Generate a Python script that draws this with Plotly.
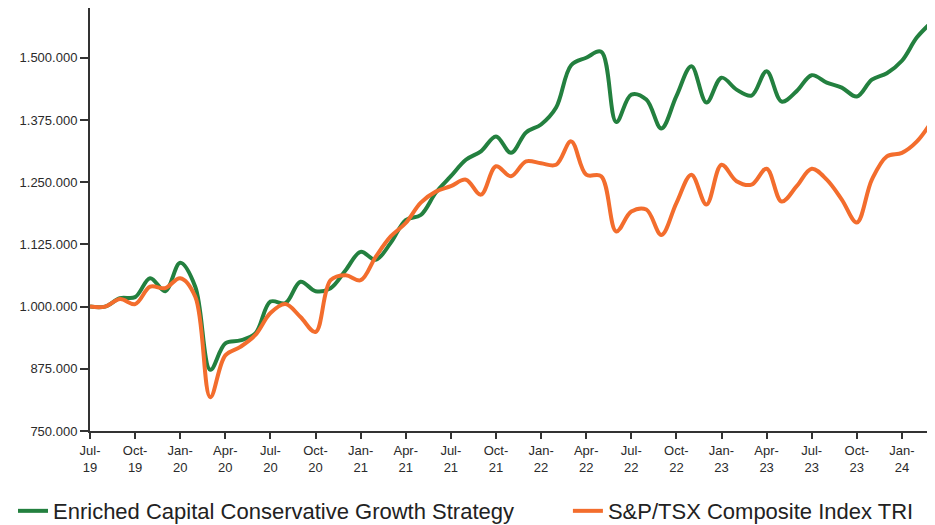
import plotly.graph_objects as go

months = ["Jul-19","Aug-19","Sep-19","Oct-19","Nov-19","Dec-19","Jan-20","Feb-20","Mar-20","Apr-20",
          "May-20","Jun-20","Jul-20","Aug-20","Sep-20","Oct-20","Nov-20","Dec-20","Jan-21","Feb-21",
          "Mar-21","Apr-21","May-21","Jun-21","Jul-21","Aug-21","Sep-21","Oct-21","Nov-21","Dec-21",
          "Jan-22","Feb-22","Mar-22","Apr-22","May-22","Jun-22","Jul-22","Aug-22","Sep-22","Oct-22",
          "Nov-22","Dec-22","Jan-23","Feb-23","Mar-23","Apr-23","May-23","Jun-23","Jul-23","Aug-23",
          "Sep-23","Oct-23","Nov-23","Dec-23","Jan-24","Feb-24","Mar-24"]

enriched = [1000000, 1000000, 1017000, 1019000, 1057000, 1031000, 1088000, 1040000, 873000, 926000,
            932000, 946000, 1010000, 1007000, 1050000, 1031000, 1037000, 1073000, 1110000, 1094000,
            1128000, 1174000, 1184000, 1229000, 1262000, 1295000, 1312000, 1342000, 1309000, 1350000,
            1366000, 1400000, 1485000, 1500000, 1512000, 1371000, 1426000, 1416000, 1358000, 1423000,
            1483000, 1410000, 1460000, 1436000, 1424000, 1473000, 1412000, 1433000, 1465000, 1450000,
            1440000, 1422000, 1456000, 1469000, 1494000, 1541000, 1572000]

tsx = [1000000, 1000000, 1015000, 1005000, 1040000, 1037000, 1057000, 1020000, 818000, 902000,
       919000, 943000, 987000, 1005000, 979000, 949000, 1053000, 1063000, 1053000, 1100000,
       1141000, 1168000, 1209000, 1231000, 1242000, 1255000, 1225000, 1282000, 1262000, 1292000,
       1288000, 1285000, 1332000, 1265000, 1262000, 1151000, 1191000, 1195000, 1144000, 1208000,
       1265000, 1205000, 1285000, 1252000, 1245000, 1277000, 1211000, 1242000, 1277000, 1255000,
       1215000, 1169000, 1255000, 1302000, 1309000, 1332000, 1373000]

y_tickvals = [750000, 875000, 1000000, 1125000, 1250000, 1375000, 1500000]
y_ticktext = ["750.000", "875.000", "1.000.000", "1.125.000", "1.250.000", "1.375.000", "1.500.000"]

x_idx = list(range(len(months)))
x_tickvals = x_idx[::3]
x_ticktext = [m.replace("-", "-<br>") for m in months[::3]]

GREEN = "#23803f"
ORANGE = "#f36d2d"

fig = go.Figure()
fig.add_trace(go.Scatter(x=x_idx, y=enriched, mode="lines",
                         name="Enriched Capital Conservative Growth Strategy",
                         line=dict(color=GREEN, width=4, shape="spline", smoothing=1.0),
                         showlegend=True, legend="legend"))
fig.add_trace(go.Scatter(x=x_idx, y=tsx, mode="lines",
                         name="S&P/TSX Composite Index TRI",
                         line=dict(color=ORANGE, width=4, shape="spline", smoothing=1.0),
                         showlegend=True, legend="legend2"))

axis_col = "#333333"
fig.update_layout(
    width=927, height=517,
    showlegend=True,
    margin=dict(l=82, r=3, t=0, b=94, pad=0),
    plot_bgcolor="white", paper_bgcolor="white",
    font=dict(family="Liberation Sans, Arial, sans-serif", color="#222222"),
    xaxis=dict(range=[0, 56], tickvals=x_tickvals, ticktext=x_ticktext,
               showgrid=False, zeroline=False, showline=True, linecolor=axis_col, linewidth=2,
               ticks="outside", ticklen=6, tickwidth=2, tickcolor=axis_col,
               tickfont=dict(size=13, color="#2a2a2a")),
    xaxis2=dict(range=[0, 56], tickvals=x_tickvals, overlaying="x", anchor="y", side="bottom",
                showgrid=False, zeroline=False, showline=False, showticklabels=False,
                ticks="inside", ticklen=6, tickwidth=2, tickcolor=axis_col),
    yaxis=dict(range=[750000, 1600000], tickvals=y_tickvals, ticktext=y_ticktext,
               showgrid=False, zeroline=False, showline=True, linecolor=axis_col, linewidth=2,
               ticks="outside", ticklen=8, tickwidth=2, tickcolor=axis_col,
               tickfont=dict(size=13, color="#2a2a2a")),
    legend=dict(orientation="h", xref="container", yref="container",
                x=0.0054, xanchor="left", y=0.027, yanchor="middle",
                font=dict(size=22, color="#222222"), bgcolor="rgba(0,0,0,0)"),
    legend2=dict(orientation="h", xref="container", yref="container",
                 x=0.604, xanchor="left", y=0.027, yanchor="middle",
                 font=dict(size=22, color="#222222"), bgcolor="rgba(0,0,0,0)"),
)

fig.write_html("out.html")
